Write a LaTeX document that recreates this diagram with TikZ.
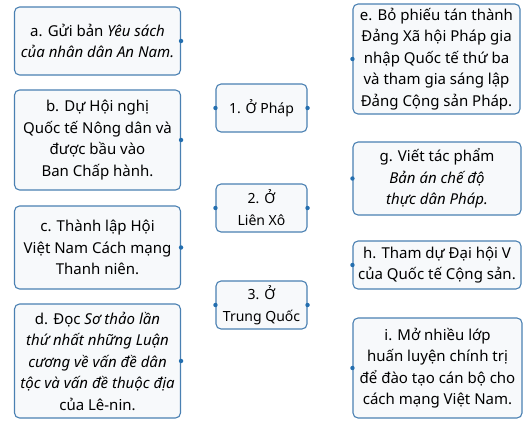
\documentclass[tikz,border=0pt]{standalone}
\usepackage{fontspec}
\setmainfont{Noto Sans}
\definecolor{boxline}{RGB}{74,128,178}
\definecolor{boxfill}{RGB}{247,249,251}
\definecolor{dotblue}{RGB}{35,110,175}

\begin{document}
\begin{tikzpicture}[x=1pt,y=-1pt,
    card/.style={draw=boxline, line width=1.1pt, fill=boxfill, rounded corners=5pt,
        align=center, inner sep=0pt, font=\fontsize{15}{21.5}\selectfont},
    place/.style={card, minimum width=91pt, minimum height=48pt,
        font=\fontsize{14}{22}\selectfont}]
    \useasboundingbox (0,0) rectangle (530,423);

    % left column: events
    \node[card, minimum width=166pt, minimum height=68pt] (a) at (97.5,41)
        {a. Gửi bản \textit{Yêu sách}\\\textit{của nhân dân An Nam.}};
    \node[card, minimum width=166pt, minimum height=100pt] (b) at (97.5,140)
        {b. Dự Hội nghị\\Quốc tế Nông dân và\\được bầu vào\\Ban Chấp hành.};
    \node[card, minimum width=166pt, minimum height=83pt] (c) at (97.5,247.5)
        {c. Thành lập Hội\\Việt Nam Cách mạng\\Thanh niên.};
    \node[card, minimum width=166pt, minimum height=114pt] (d) at (97.5,361)
        {d. Đọc \textit{Sơ thảo lần}\\\textit{thứ nhất những Luận}\\\textit{cương về vấn đề dân}\\\textit{tộc và vấn đề thuộc địa}\\của Lê-nin.};

    % middle column: places
    \node[place] (p1) at (261.5,108) {1. Ở Pháp};
    \node[place] (p2) at (261.5,208) {2. Ở\\Liên Xô};
    \node[place] (p3) at (261.5,305) {3. Ở\\Trung Quốc};

    % right column: events
    \node[card, minimum width=167pt, minimum height=110pt] (e) at (436.5,59)
        {e. Bỏ phiếu tán thành\\Đảng Xã hội Pháp gia\\nhập Quốc tế thứ ba\\và tham gia sáng lập\\Đảng Cộng sản Pháp.};
    \node[card, minimum width=168pt, minimum height=73pt] (g) at (437,178.5)
        {g. Viết tác phẩm\\\textit{Bản án chế độ}\\\textit{thực dân Pháp.}};
    \node[card, minimum width=168pt, minimum height=48pt] (h) at (437,265)
        {h. Tham dự Đại hội V\\của Quốc tế Cộng sản.};
    \node[card, minimum width=169pt, minimum height=100pt] (i) at (437.5,368)
        {i. Mở nhiều lớp\\huấn luyện chính trị\\để đào tạo cán bộ cho\\cách mạng Việt Nam.};

    % connection dots
    \foreach \n in {a,b,c,d,p1,p2,p3}
        \fill[dotblue] (\n.east) circle (2.2pt);
    \foreach \n in {e,g,h,i,p1,p2,p3}
        \fill[dotblue] (\n.west) circle (2.2pt);
\end{tikzpicture}
\end{document}
